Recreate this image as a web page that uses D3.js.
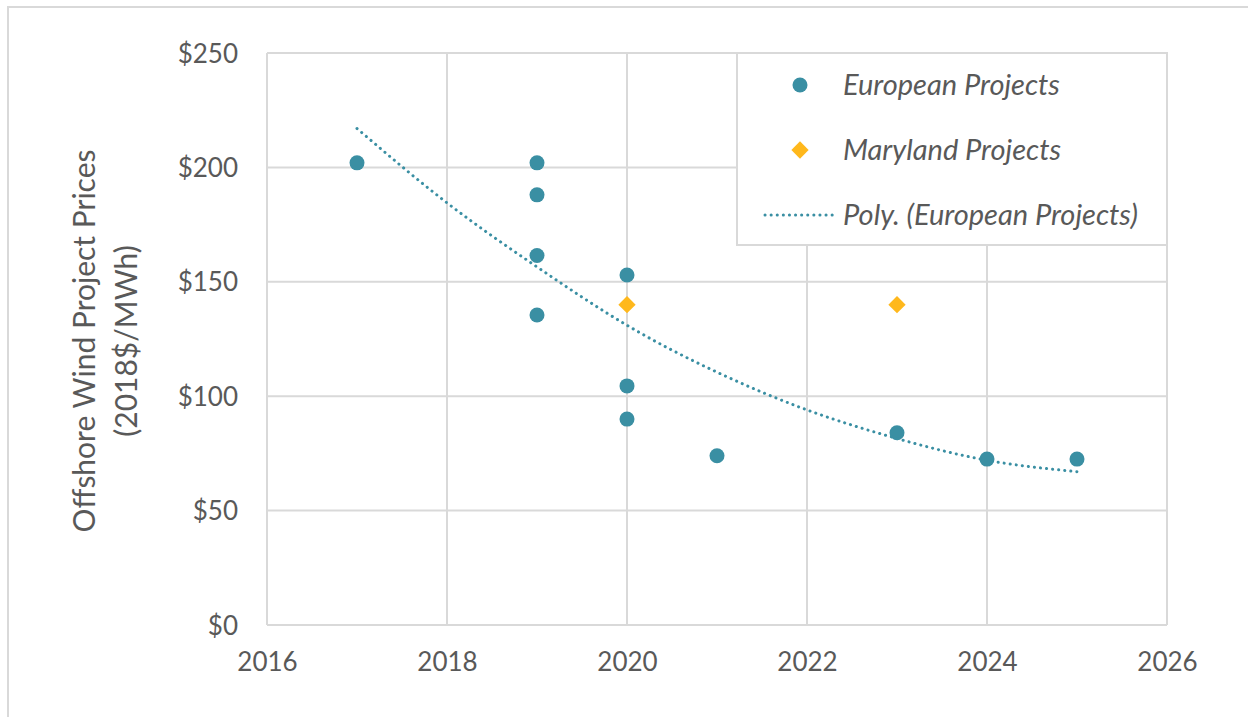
<!DOCTYPE html>
<html>
<head>
<meta charset="utf-8">
<script src="https://cdn.jsdelivr.net/npm/d3@7"></script>
<style>
  body { margin: 0; background: #fff; }
  svg text { font-family: Lato, "Open Sans", sans-serif; fill: #595959; }
</style>
</head>
<body>
<svg class="chart" width="1248" height="717"></svg>
<script>
// European projects (year, price in 2018$/MWh)
var euYears  = [2017, 2019, 2019, 2019, 2019, 2020, 2020, 2020, 2021, 2023, 2024, 2025];
var euPrices = [202, 202, 188, 161.5, 135.5, 153, 104.5, 90, 74, 84, 72.5, 72.5];
// Maryland projects
var mdYears  = [2020, 2023];
var mdPrices = [140, 140];
// Poly. trend line
var trendYears  = [2017, 2018, 2019, 2020, 2021, 2022, 2023, 2024, 2025];
var trendPrices = [217, 184.5, 156.5, 131, 110.5, 94, 81.5, 72, 67];

var xTicks = [2016, 2018, 2020, 2022, 2024, 2026];
var yTicks = [0, 50, 100, 150, 200, 250];
var legendLabels = ["European Projects", "Maryland Projects", "Poly. (European Projects)"];

var teal = "#3a8fa3", gold = "#ffb81c", grid = "#d9d9d9";

var svg = d3.select("svg.chart"),
    margin = {top: 53, left: 267},
    width = 900,
    height = 572;

// outer frame (only top and left edges are visible)
svg.append("path")
    .attr("d", "M8,717 L8,7 L1248,7")
    .attr("fill", "none")
    .attr("stroke", grid)
    .attr("stroke-width", 2);

var x = d3.scaleLinear().domain([2016, 2026]).range([0, width]),
    y = d3.scaleLinear().domain([0, 250]).range([height, 0]);

var g = svg.append("g")
    .attr("transform", "translate(" + margin.left + "," + margin.top + ")");

// gridlines
g.selectAll(".vgrid")
    .data(xTicks)
    .enter().append("line")
        .attr("x1", function(d) { return x(d); })
        .attr("x2", function(d) { return x(d); })
        .attr("y1", 0).attr("y2", height)
        .attr("stroke", grid).attr("stroke-width", 2);

g.selectAll(".hgrid")
    .data(yTicks)
    .enter().append("line")
        .attr("x1", 0).attr("x2", width)
        .attr("y1", function(d) { return y(d); })
        .attr("y2", function(d) { return y(d); })
        .attr("stroke", grid).attr("stroke-width", 2);

var xAxis = d3.axisBottom(x).tickValues(xTicks).tickFormat(d3.format("d")).tickSize(0).tickPadding(28),
    yAxis = d3.axisLeft(y).tickValues(yTicks).tickFormat(function(d) { return "$" + d; }).tickSize(0).tickPadding(29);

g.append("g")
    .attr("transform", "translate(0," + height + ")")
    .call(xAxis)
    .call(function(a) { a.select(".domain").remove(); })
    .selectAll("text").style("font-size", "26px").attr("fill", "#595959");

g.append("g")
    .call(yAxis)
    .call(function(a) { a.select(".domain").remove(); })
    .selectAll("text").style("font-size", "26px").attr("fill", "#595959").attr("dy", "0.35em");

// y-axis title
var title = svg.append("text")
    .attr("transform", "translate(95,341) rotate(-90)")
    .attr("text-anchor", "middle")
    .style("font-size", "30px");
title.append("tspan").attr("x", 0).attr("dy", 0).text("Offshore Wind Project Prices");
title.append("tspan").attr("x", 0).attr("dy", "1.4em").text("(2018$/MWh)");

var line = d3.line()
    .curve(d3.curveNatural)
    .x(function(d) { return x(d[0]); })
    .y(function(d) { return y(d[1]); });

// european points
g.selectAll(".eu")
    .data(euYears.map(function(d, i) { return [d, euPrices[i]]; }))
    .enter().append("circle")
        .attr("cx", function(d) { return x(d[0]); })
        .attr("cy", function(d) { return y(d[1]); })
        .attr("r", 7.5)
        .attr("fill", teal);

g.append("path")
    .datum(trendYears.map(function(d, i) { return [d, trendPrices[i]]; }))
    .attr("d", line)
    .attr("fill", "none")
    .attr("stroke", teal)
    .attr("stroke-width", 3)
    .attr("stroke-linecap", "round")
    .attr("stroke-dasharray", "0.1 6");

var diamond = d3.symbol().type(d3.symbolDiamond2).size(190);
g.selectAll(".md")
    .data(mdYears.map(function(d, i) { return [d, mdPrices[i]]; }))
    .enter().append("path")
        .attr("d", diamond)
        .attr("transform", function(d) { return "translate(" + x(d[0]) + "," + y(d[1]) + ")"; })
        .attr("fill", gold);

// legend
var lg = svg.append("g").attr("transform", "translate(737,53)");
lg.append("rect")
    .attr("width", 430).attr("height", 192)
    .attr("fill", "#fff").attr("stroke", grid).attr("stroke-width", 2);

var rowY = [32, 97, 162];
lg.append("circle").attr("cx", 63).attr("cy", rowY[0]).attr("r", 7.5).attr("fill", teal);
lg.append("path").attr("d", diamond).attr("transform", "translate(63," + rowY[1] + ")").attr("fill", gold);
lg.append("line")
    .attr("x1", 28).attr("x2", 98).attr("y1", rowY[2]).attr("y2", rowY[2])
    .attr("stroke", teal).attr("stroke-width", 3)
    .attr("stroke-linecap", "round").attr("stroke-dasharray", "0.1 6");

lg.selectAll(".lt")
    .data(legendLabels)
    .enter().append("text")
        .attr("x", 106)
        .attr("y", function(d, i) { return rowY[i]; })
        .attr("dy", "0.35em")
        .style("font-size", "29px")
        .style("font-style", "italic")
        .text(function(d) { return d; });
</script>
</body>
</html>
